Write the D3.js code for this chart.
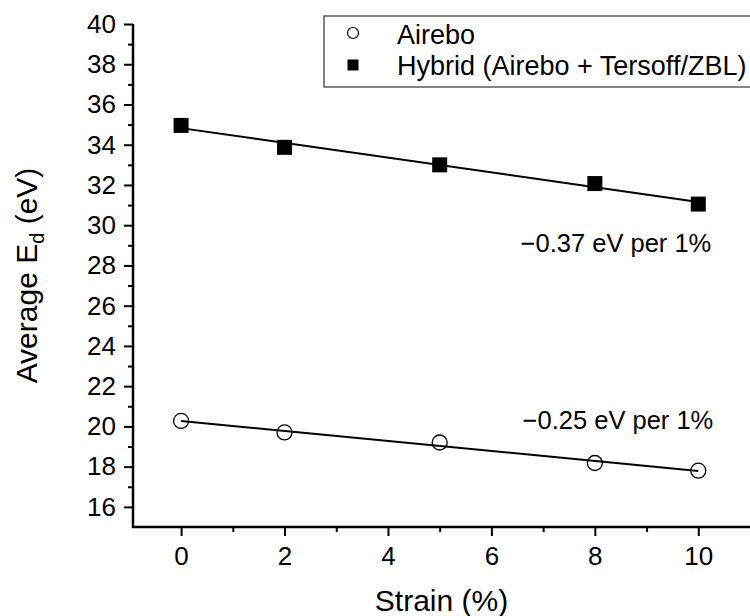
<!DOCTYPE html>
<html>
<head>
<meta charset="utf-8">
<script src="https://cdn.jsdelivr.net/npm/d3@7"></script>
<style>
  body { margin: 0; background: #fff; }
  svg { display: block; font-family: "Liberation Sans", Arial, sans-serif; }
</style>
</head>
<body>
<div id="chart"></div>
<script>
// values
var strain = [0, 2, 5, 8, 10];
var airebo = [20.27, 19.7, 19.2, 18.18, 17.8];
var hybrid = [34.96, 33.87, 33.0, 32.07, 31.05];
var xTicks = [0, 2, 4, 6, 8, 10],
    xMinor = [1, 3, 5, 7, 9],
    yTicks = d3.range(16, 41, 2),
    yMinor = d3.range(17, 40, 2);
var seriesNames = ["Airebo", "Hybrid (Airebo + Tersoff/ZBL)"];
var slopeLabels = ["\u22120.25 eV per 1%", "\u22120.37 eV per 1%"];

var svgwidth = 750, svgheight = 616,
    margin = {top: 24, right: 0, bottom: 89, left: 133};
var width = svgwidth - margin.left - margin.right,
    height = svgheight - margin.top - margin.bottom;

var svg = d3.select("#chart").append("svg")
    .attr("width", svgwidth)
    .attr("height", svgheight);
var g = svg.append("g").attr("transform", "translate(" + margin.left + "," + margin.top + ")");

var x = d3.scaleLinear().domain([-0.93, 11]).range([0, width]),
    y = d3.scaleLinear().domain([15, 40]).range([height, 0]);

// least squares fit of each series
function fit(xs, ys) {
  var mx = d3.mean(xs), my = d3.mean(ys);
  var sxy = d3.sum(xs, function(v, i) { return (v - mx) * (ys[i] - my); });
  var sxx = d3.sum(xs, function(v) { return (v - mx) * (v - mx); });
  var b = sxy / sxx;
  return {slope: b, icpt: my - b * mx};
}

var line = d3.line()
    .x(function(d) { return x(d[0]); })
    .y(function(d) { return y(d[1]); });

[airebo, hybrid].forEach(function(ys) {
  var f = fit(strain, ys);
  var x0 = strain[0], x1 = strain[strain.length - 1];
  g.append("path")
    .attr("d", line([[x0, f.icpt + f.slope * x0], [x1, f.icpt + f.slope * x1]]))
    .attr("fill", "none")
    .attr("stroke", "#000")
    .attr("stroke-width", 2);
});

// markers
g.selectAll(".circ").data(strain).enter().append("circle")
    .attr("class", "circ")
    .attr("cx", function(d) { return x(d); })
    .attr("cy", function(d, i) { return y(airebo[i]); })
    .attr("r", 7.5)
    .attr("fill", "none")
    .attr("stroke", "#000")
    .attr("stroke-width", 1.3);

g.selectAll(".sq").data(strain).enter().append("rect")
    .attr("class", "sq")
    .attr("x", function(d) { return x(d) - 7.5; })
    .attr("y", function(d, i) { return y(hybrid[i]) - 7.5; })
    .attr("width", 15)
    .attr("height", 15)
    .attr("fill", "#000");

// axes
function styleAxis(sel) {
  sel.selectAll("line").attr("stroke", "#000").attr("stroke-width", 2);
  sel.selectAll("text").style("font-size", "26px").attr("fill", "#000")
    .style("font-family", "'Liberation Sans', Arial, sans-serif");
  sel.select(".domain").remove();
}

g.append("g")
    .attr("transform", "translate(0," + height + ")")
    .call(d3.axisBottom(x).tickValues(xTicks).tickSize(9).tickPadding(11).tickSizeOuter(0))
    .call(styleAxis);
g.append("g")
    .attr("transform", "translate(0," + height + ")")
    .call(d3.axisBottom(x).tickValues(xMinor).tickSize(5).tickFormat("").tickSizeOuter(0))
    .call(styleAxis);
g.append("g")
    .call(d3.axisLeft(y).tickValues(yTicks).tickSize(9).tickPadding(8).tickSizeOuter(0))
    .call(styleAxis);
g.append("g")
    .call(d3.axisLeft(y).tickValues(yMinor).tickSize(5).tickFormat("").tickSizeOuter(0))
    .call(styleAxis);

// axis lines
g.append("line")
    .attr("x1", -1).attr("x2", width)
    .attr("y1", height).attr("y2", height)
    .attr("stroke", "#000").attr("stroke-width", 2.5);
g.append("line")
    .attr("x1", 0).attr("x2", 0)
    .attr("y1", y(40)).attr("y2", height + 1)
    .attr("stroke", "#000").attr("stroke-width", 2.5);

// axis titles
svg.append("text")
    .attr("x", margin.left + width / 2)
    .attr("y", 611)
    .attr("text-anchor", "middle")
    .style("font-size", "30px")
    .text("Strain (%)");

var yt = svg.append("text")
    .attr("transform", "translate(37," + (margin.top + height / 2) + ") rotate(-90)")
    .attr("text-anchor", "middle")
    .style("font-size", "30px");
yt.append("tspan").text("Average E");
yt.append("tspan").attr("dy", 7).style("font-size", "20px").text("d");
yt.append("tspan").attr("dy", -7).text(" (eV)");

// slope notes
g.append("text")
    .attr("x", x(10) + 13).attr("y", y(hybrid[4]) + 48)
    .attr("text-anchor", "end")
    .style("font-size", "25.5px")
    .text(slopeLabels[1]);
g.append("text")
    .attr("x", x(10) + 15).attr("y", y(airebo[0]) + 8)
    .attr("text-anchor", "end")
    .style("font-size", "25.5px")
    .text(slopeLabels[0]);

// legend
var lg = svg.append("g").attr("transform", "translate(324,16)");
lg.append("rect")
    .attr("x", 0).attr("y", 0)
    .attr("width", 460).attr("height", 71)
    .attr("fill", "#fff")
    .attr("stroke", "#333")
    .attr("stroke-width", 1.2);
lg.append("circle")
    .attr("cx", 29).attr("cy", 17).attr("r", 5.5)
    .attr("fill", "none").attr("stroke", "#000").attr("stroke-width", 1.2);
lg.append("rect")
    .attr("x", 23.5).attr("y", 43.5).attr("width", 11).attr("height", 11)
    .attr("fill", "#000");
lg.selectAll(".ltxt").data(seriesNames).enter().append("text")
    .attr("class", "ltxt")
    .attr("x", 73)
    .attr("y", function(d, i) { return 28 + i * 31; })
    .style("font-size", "27px")
    .text(function(d) { return d; });
</script>
</body>
</html>
